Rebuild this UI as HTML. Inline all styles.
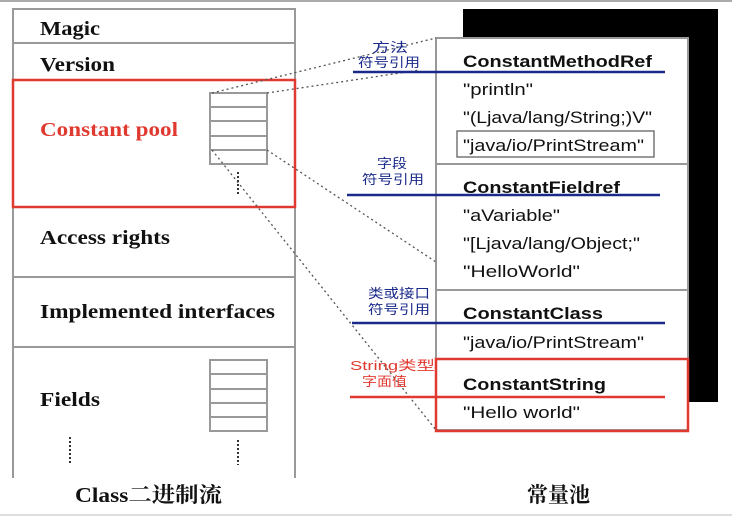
<!DOCTYPE html>
<html><head><meta charset="utf-8"><style>
body{margin:0;background:#fff;}
svg{display:block}
.s{font-family:"Liberation Serif","Noto Serif CJK SC",serif;font-weight:bold;font-size:20px;fill:#111}
.a{font-family:"Liberation Sans","Noto Sans CJK SC",sans-serif;font-size:17px;fill:#111}
.b{font-family:"Liberation Sans","Noto Sans CJK SC",sans-serif;font-size:17px;font-weight:bold;fill:#111}
.c{font-family:"Liberation Sans","Noto Sans CJK SC",sans-serif;font-size:13px;fill:#1a2a8a}
</style></head><body>
<svg width="732" height="516" viewBox="0 0 732 516">
<line x1="0" y1="1" x2="732" y2="1" stroke="#aaa" stroke-width="2"/>
<line x1="0" y1="515" x2="732" y2="515" stroke="#ddd" stroke-width="2"/>
<g stroke="#999" stroke-width="2" fill="none">
<polyline points="13,478 13,9 295,9 295,478"/>
<line x1="13" y1="43" x2="295" y2="43"/>
<line x1="13" y1="277" x2="295" y2="277"/>
<line x1="13" y1="347" x2="295" y2="347"/>
<rect x="210" y="93" width="57" height="71"/>
<line x1="210" y1="107" x2="267" y2="107"/><line x1="210" y1="121" x2="267" y2="121"/><line x1="210" y1="136" x2="267" y2="136"/><line x1="210" y1="150" x2="267" y2="150"/>
<rect x="210" y="360" width="57" height="71"/>
<line x1="210" y1="374" x2="267" y2="374"/><line x1="210" y1="389" x2="267" y2="389"/><line x1="210" y1="403" x2="267" y2="403"/><line x1="210" y1="417" x2="267" y2="417"/>
</g>
<rect x="13" y="80" width="282" height="127" fill="none" stroke="#e03a30" stroke-width="2.5"/>
<g stroke="#333" stroke-width="2" stroke-dasharray="2,2">
<line x1="238" y1="172" x2="238" y2="196"/>
<line x1="70" y1="437" x2="70" y2="463"/>
<line x1="238" y1="440" x2="238" y2="465"/>
</g>
<text class="s" x="40" y="35" textLength="60" lengthAdjust="spacingAndGlyphs">Magic</text>
<text class="s" x="40" y="71" textLength="75" lengthAdjust="spacingAndGlyphs">Version</text>
<text class="s" x="40" y="136" textLength="138" lengthAdjust="spacingAndGlyphs" style="fill:#e03a30">Constant pool</text>
<text class="s" x="40" y="244" textLength="130" lengthAdjust="spacingAndGlyphs">Access rights</text>
<text class="s" x="40" y="318" textLength="235" lengthAdjust="spacingAndGlyphs">Implemented interfaces</text>
<text class="s" x="40" y="406" textLength="60" lengthAdjust="spacingAndGlyphs">Fields</text>
<rect x="463" y="9" width="255" height="393" fill="#000"/>
<rect x="436" y="38" width="252" height="392" fill="#fff" stroke="#999" stroke-width="2"/>
<line x1="436" y1="164" x2="688" y2="164" stroke="#999" stroke-width="2"/>
<line x1="436" y1="290" x2="688" y2="290" stroke="#999" stroke-width="2"/>
<rect x="436" y="359" width="252" height="72" fill="none" stroke="#e03a30" stroke-width="2.5"/>
<rect x="457" y="131" width="197" height="26" fill="none" stroke="#555" stroke-width="1.2"/>
<g stroke="#555" stroke-width="1.3" stroke-dasharray="2,3" fill="none">
<line x1="212" y1="93" x2="436" y2="38"/>
<line x1="267" y1="93" x2="420" y2="70"/>
<line x1="267" y1="150" x2="436" y2="262"/>
<line x1="212" y1="150" x2="436" y2="430"/>
</g>
<line x1="353" y1="72" x2="665" y2="72" stroke="#1a2a8a" stroke-width="2.5"/>
<line x1="347" y1="195" x2="660" y2="195" stroke="#1a2a8a" stroke-width="2.5"/>
<line x1="352" y1="323" x2="665" y2="323" stroke="#1a2a8a" stroke-width="2.5"/>
<line x1="350" y1="397" x2="665" y2="397" stroke="#e03a30" stroke-width="2.5"/>
<text class="b" x="463" y="67" textLength="189" lengthAdjust="spacingAndGlyphs">ConstantMethodRef</text>
<text class="a" x="463" y="95" textLength="70" lengthAdjust="spacingAndGlyphs">"println"</text>
<text class="a" x="463" y="123" textLength="189" lengthAdjust="spacingAndGlyphs">"(Ljava/lang/String;)V"</text>
<text class="a" x="463" y="151" textLength="181" lengthAdjust="spacingAndGlyphs">"java/io/PrintStream"</text>
<text class="b" x="463" y="193" textLength="157" lengthAdjust="spacingAndGlyphs">ConstantFieldref</text>
<text class="a" x="463" y="221" textLength="97" lengthAdjust="spacingAndGlyphs">"aVariable"</text>
<text class="a" x="463" y="249" textLength="177" lengthAdjust="spacingAndGlyphs">"[Ljava/lang/Object;"</text>
<text class="a" x="463" y="277" textLength="117" lengthAdjust="spacingAndGlyphs">"HelloWorld"</text>
<text class="b" x="463" y="319" textLength="140" lengthAdjust="spacingAndGlyphs">ConstantClass</text>
<text class="a" x="463" y="348" textLength="181" lengthAdjust="spacingAndGlyphs">"java/io/PrintStream"</text>
<text class="b" x="463" y="390" textLength="143" lengthAdjust="spacingAndGlyphs">ConstantString</text>
<text class="a" x="463" y="418" textLength="117" lengthAdjust="spacingAndGlyphs">"Hello  world"</text>
<text class="c" x="372" y="52" textLength="36" lengthAdjust="spacingAndGlyphs">方法</text>
<text class="c" x="358" y="67" textLength="62" lengthAdjust="spacingAndGlyphs">符号引用</text>
<text class="c" x="377" y="168" textLength="30" lengthAdjust="spacingAndGlyphs">字段</text>
<text class="c" x="362" y="184" textLength="62" lengthAdjust="spacingAndGlyphs">符号引用</text>
<text class="c" x="368" y="298" textLength="62" lengthAdjust="spacingAndGlyphs">类或接口</text>
<text class="c" x="368" y="314" textLength="62" lengthAdjust="spacingAndGlyphs">符号引用</text>
<text class="c" x="350" y="370" textLength="85" lengthAdjust="spacingAndGlyphs" style="fill:#e03a30">String类型</text>
<text class="c" x="362" y="386" textLength="45" lengthAdjust="spacingAndGlyphs" style="fill:#e03a30">字面值</text>
<text class="s" x="75" y="502" textLength="147" lengthAdjust="spacingAndGlyphs" style="font-size:21px">Class二进制流</text>
<text class="s" x="527" y="502" textLength="63" lengthAdjust="spacingAndGlyphs" style="font-size:21px">常量池</text>
</svg>
</body></html>
